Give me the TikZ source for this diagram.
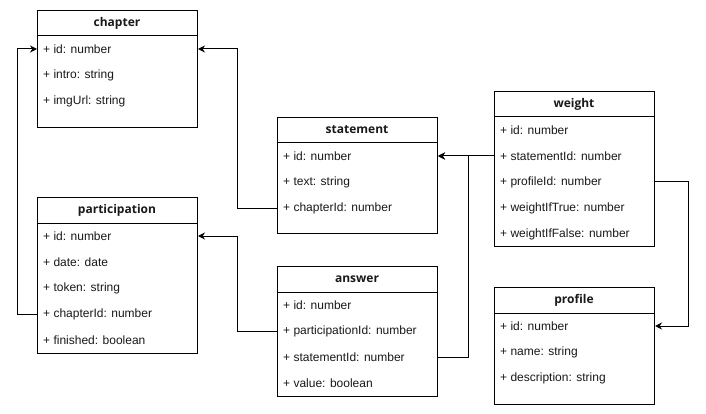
\documentclass[tikz,border=0pt]{standalone}
\usepackage{fontspec}
\setmainfont{Liberation Sans}
\newfontfamily\titlefont{Open Sans}
\usetikzlibrary{arrows.meta,calc,positioning}
\tikzset{
  classbox/.style={draw, line width=1pt, fill=white, minimum width=160pt, anchor=north west, inner sep=0pt},
  classtitle/.style={font=\titlefont\bfseries\fontsize{12}{14}\selectfont, text=black!90},
  field/.style={font=\fontsize{12}{14}\selectfont, text=black!90, anchor=west, inner sep=0pt},
  fk/.style={-{Stealth[length=7pt,width=7pt]}, line width=1pt}
}
% one class: name, x, y, height, title, fields
\newcommand{\umlclass}[6]{
  \node[classbox, minimum height=#4pt] (#1) at (#2,#3) {};
  \node[classtitle] (#1-title) at ($(#1.north west)+(80,13)$) {#5};
  \draw[line width=1pt] ($(#1.north west)+(0,26)$) -- ++(160,0);
  \foreach \f [count=\i] in {#6}
    \node[field] (#1-\i) at ($(#1.north west)+(6,13+26*\i)$) {\f};
}

\begin{document}
\begin{tikzpicture}[x=1pt, y=-1pt]
  \useasboundingbox (0,0) rectangle (706,414);

  % classes
  \umlclass{chapter}{37}{10}{117}{chapter}{+ id: number, + intro: string, + imgUrl: string}
  \umlclass{statement}{277}{117}{116}{statement}{+ id: number, + text: string, + chapterId: number}
  \umlclass{weight}{494}{91}{155}{weight}{+ id: number, + statementId: number, + profileId: number, + weightIfTrue: number, + weightIfFalse: number}
  \umlclass{participation}{37}{197}{156}{participation}{+ id: number, + date: date, + token: string, + chapterId: number, + finished: boolean}
  \umlclass{answer}{277}{266}{130}{answer}{+ id: number, + participationId: number, + statementId: number, + value: boolean}
  \umlclass{profile}{494}{287}{117}{profile}{+ id: number, + name: string, + description: string}

  % foreign keys
  \draw[fk] (statement.west |- statement-3) -- ++(-40,0) |- (chapter.east |- chapter-1);
  \draw[fk] (participation.west |- participation-4) -- ++(-20,0) |- (chapter.west |- chapter-1);
  \draw[fk] (answer.west |- answer-2) -- ++(-40,0) |- (participation.east |- participation-1);
  \draw[fk] (answer.east |- answer-3) -- ++(30,0) |- (statement.east |- statement-1);
  \draw[fk] (weight.west |- weight-2) -- (statement.east |- statement-1);
  \draw[fk] (weight.east |- weight-3) -- ++(33,0) |- (profile.east |- profile-1);
\end{tikzpicture}
\end{document}
